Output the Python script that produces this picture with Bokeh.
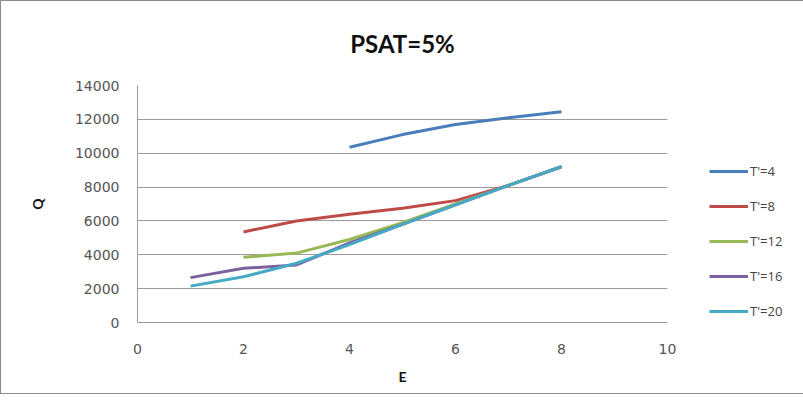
from bokeh.plotting import figure
from bokeh.models import Legend, LegendItem, FixedTicker, Title
from bokeh.embed import file_html
from bokeh.resources import INLINE

# Data
series_names = ["T'=4", "T'=8", "T'=12", "T'=16", "T'=20"]
x_t4 = [4, 5, 6, 7, 8]
y_t4 = [10350, 11100, 11700, 12100, 12450]
x_t8 = [2, 3, 4, 5, 6, 7, 8]
y_t8 = [5350, 6000, 6400, 6750, 7200, 8100, 9200]
x_t12 = [2, 3, 4, 5, 6, 7, 8]
y_t12 = [3850, 4100, 4900, 5900, 7000, 8100, 9200]
x_t16 = [1, 2, 3, 4, 5, 6, 7, 8]
y_t16 = [2650, 3200, 3400, 4700, 5800, 6950, 8100, 9200]
x_t20 = [1, 2, 3, 4, 5, 6, 7, 8]
y_t20 = [2150, 2700, 3500, 4600, 5800, 6950, 8100, 9200]
x_ticks = [0, 2, 4, 6, 8, 10]
y_ticks = [0, 2000, 4000, 6000, 8000, 10000, 12000, 14000]

colors = ["#4A7EBB", "#BE4B48", "#98B954", "#7D60A0", "#46AAC5"]
xs = [x_t4, x_t8, x_t12, x_t16, x_t20]
ys = [y_t4, y_t8, y_t12, y_t16, y_t20]

p = figure(width=787, height=392, output_backend="svg", toolbar_location=None,
           x_range=(0, 10), y_range=(0, 14000),
           title="PSAT=5%")
p.frame_width = 530
p.frame_height = 237
p.min_border_left = 136
p.min_border_right = 121
p.min_border_top = 84
p.min_border_bottom = 71
p.styles = {"border": "1px solid #8c8c8c"}

# spacer between title and plot area
p.add_layout(Title(text=" ", text_font_size="19px", standoff=0), "above")

p.title.text_font = "Lato"
p.title.text_font_size = "24px"
p.title.text_font_style = "bold"
p.title.align = "center"
p.title.text_color = "#111111"
p.title.standoff = 10

p.outline_line_color = None
p.xgrid.grid_line_color = None
p.ygrid.grid_line_color = "#9a9a9a"
p.ygrid.grid_line_width = 1

p.xaxis.ticker = FixedTicker(ticks=x_ticks)
p.yaxis.ticker = FixedTicker(ticks=y_ticks)
for ax in (p.xaxis[0], p.yaxis[0]):
    ax.axis_line_color = "#9a9a9a"
    ax.major_tick_line_color = None
    ax.minor_tick_line_color = None
    ax.major_label_text_font = "DejaVu Sans"
    ax.major_label_text_font_size = "14px"
    ax.major_label_text_color = "#555555"
    ax.axis_label_text_font = "Lato"
    ax.axis_label_text_font_size = "14px"
    ax.axis_label_text_font_style = "bold"
    ax.axis_label_text_color = "#111111"

p.xaxis.axis_label = "E"
p.yaxis.axis_label = "Q"
p.xaxis.major_label_standoff = 15
p.yaxis.major_label_standoff = 12
p.xaxis.axis_label_standoff = 11
p.yaxis.axis_label_standoff = 26

items = []
for name, x, y, c in zip(series_names, xs, ys, colors):
    r = p.line(x, y, line_color=c, line_width=3)
    items.append(LegendItem(label=name, renderers=[r]))

legend = Legend(items=items, location=(42, 1), orientation="vertical",
                glyph_width=39, glyph_height=20, label_height=20,
                spacing=15, padding=0, margin=0, label_standoff=2,
                border_line_color=None, background_fill_alpha=0,
                label_text_font="Open Sans", label_text_font_size="13px",
                label_text_color="#444444")
p.add_layout(legend, "right")

open("out.html", "w").write(file_html(p, INLINE))
